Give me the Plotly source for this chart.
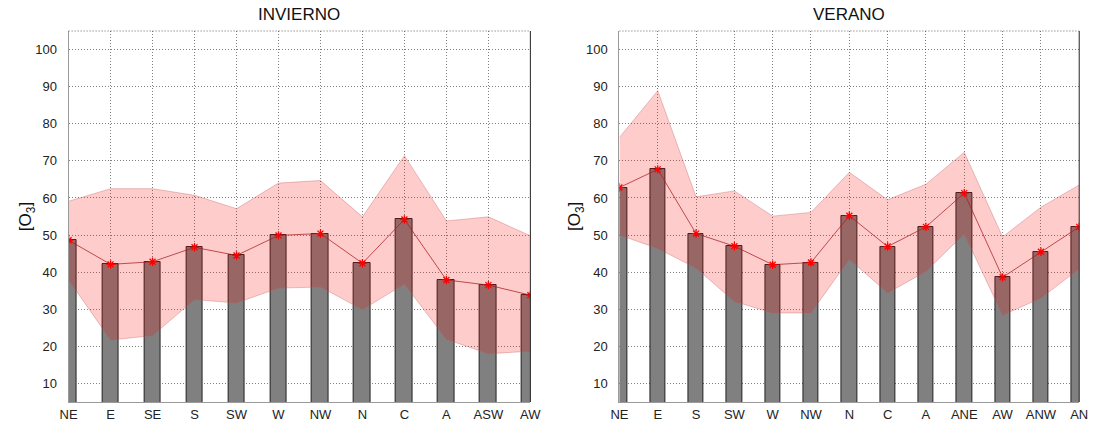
import plotly.graph_objects as go

# Winter (INVIERNO) ozone by synoptic pattern
cats_inv = ["NE", "E", "SE", "S", "SW", "W", "NW", "N", "C", "A", "ASW", "AW"]
mean_inv = [48.6, 42.1, 42.8, 46.7, 44.5, 49.9, 50.4, 42.4, 54.2, 37.9, 36.5, 33.8]
upper_inv = [59.1, 62.5, 62.5, 60.7, 57.1, 64.0, 64.7, 54.9, 71.4, 53.8, 54.9, 49.8]
lower_inv = [37.9, 21.7, 22.9, 32.6, 31.7, 35.7, 36.0, 29.9, 36.8, 21.9, 18.0, 18.7]

# Summer (VERANO) ozone by synoptic pattern
cats_ver = ["NE", "E", "S", "SW", "W", "NW", "N", "C", "A", "ANE", "AW", "ANW", "AN"]
mean_ver = [62.8, 67.7, 50.4, 47.0, 42.0, 42.6, 55.2, 46.9, 52.2, 61.3, 38.6, 45.5, 52.2]
upper_ver = [76.3, 88.9, 60.3, 61.9, 55.1, 56.1, 66.9, 59.5, 63.7, 72.3, 49.5, 57.5, 63.5]
lower_ver = [50.0, 46.4, 41.1, 32.1, 29.0, 29.0, 43.5, 34.4, 40.2, 50.3, 28.4, 33.0, 40.9]

y_ticks = [10, 20, 30, 40, 50, 60, 70, 80, 90, 100]

W, H = 1102, 427
FONT = "Liberation Sans, Arial, Helvetica, sans-serif"
BAND = "rgba(255,0,0,0.2)"
BAND_EDGE = "rgba(190,90,90,0.35)"
GRID = "rgba(0,0,0,0.5)"

fig = go.Figure()

panels = [
    ("x", "y", cats_inv, mean_inv, upper_inv, lower_inv),
    ("x2", "y2", cats_ver, mean_ver, upper_ver, lower_ver),
]

for xa, ya, cats, mean, up, lo in panels:
    fig.add_trace(go.Bar(
        x=cats, y=mean, width=0.4, xaxis=xa, yaxis=ya,
        marker=dict(color="#808080", line=dict(color="rgba(0,0,0,0.8)", width=1)),
        showlegend=False, hoverinfo="skip",
    ))

for xa, ya, cats, mean, up, lo in panels:
    fig.add_trace(go.Scatter(
        x=cats, y=lo, mode="lines", xaxis=xa, yaxis=ya,
        line=dict(color=BAND_EDGE, width=1), showlegend=False, hoverinfo="skip",
    ))
    fig.add_trace(go.Scatter(
        x=cats, y=up, mode="lines", xaxis=xa, yaxis=ya, fill="tonexty",
        fillcolor=BAND, line=dict(color=BAND_EDGE, width=1),
        showlegend=False, hoverinfo="skip",
    ))
    fig.add_trace(go.Scatter(
        x=cats, y=mean, mode="lines+markers", xaxis=xa, yaxis=ya,
        line=dict(color="rgba(170,30,30,0.75)", width=1),
        marker=dict(symbol="asterisk-open", size=7, color="red",
                    line=dict(color="red", width=1.3)),
        showlegend=False, hoverinfo="skip",
    ))

dom1 = [60.7 / W, 531.0 / W]
dom2 = [621.7 / W, 1090.0 / W]

xcommon = dict(
    type="category", showgrid=True, gridcolor=GRID, griddash="1px,2px", gridwidth=1,
    showline=True, linecolor="#9a9a9a", linewidth=1, mirror=False,
    ticks="", tickfont=dict(family=FONT, size=13, color="#222"), zeroline=False,
    fixedrange=True,
)
ycommon = dict(
    range=[5, 105], tickvals=y_ticks, showgrid=True, gridcolor=GRID,
    griddash="1px,2px", gridwidth=1, showline=True, linecolor="#9a9a9a", linewidth=1,
    ticks="", ticklabelstandoff=8, tickfont=dict(family=FONT, size=13, color="#222"),
    zeroline=False, fixedrange=True,
)

fig.update_layout(
    width=W, height=H,
    margin=dict(l=0, r=0, t=31, b=25),
    paper_bgcolor="white", plot_bgcolor="white",
    barmode="overlay", bargap=0,
    xaxis=dict(domain=dom1, range=[0, len(cats_inv) - 1], anchor="y",
               categoryorder="array", categoryarray=cats_inv, **xcommon),
    yaxis=dict(domain=[0, 1], anchor="x", **ycommon),
    xaxis2=dict(domain=dom2, range=[0, len(cats_ver) - 1], anchor="y2",
                categoryorder="array", categoryarray=cats_ver, **xcommon),
    yaxis2=dict(domain=[0, 1], anchor="x2", **ycommon),
)

# box edges: dotted top, solid dark right side
for xd, yd in (("x domain", "y domain"), ("x2 domain", "y2 domain")):
    fig.add_shape(type="line", xref=xd, yref=yd, x0=0, x1=1, y0=1, y1=1,
                  line=dict(color="rgba(0,0,0,0.6)", width=1, dash="1px,2px"))
    fig.add_shape(type="line", xref=xd, yref=yd, x0=1, x1=1, y0=0, y1=1,
                  line=dict(color="#222", width=1))

plot_h = H - 31 - 25
title_y = 1 + (31 - 15) / plot_h
for text, dom in (("INVIERNO", dom1), ("VERANO", dom2)):
    fig.add_annotation(text=text, xref="paper", yref="paper",
                       x=(dom[0] + dom[1]) / 2, y=title_y, xanchor="center",
                       yanchor="middle", showarrow=False,
                       font=dict(family=FONT, size=17, color="#111"))

for xpix in (18, 577):
    fig.add_annotation(text="[O<sub>3</sub>]", xref="paper", yref="paper",
                       x=xpix / W, y=0.5, xanchor="center", yanchor="middle",
                       textangle=-90, showarrow=False,
                       font=dict(family=FONT, size=17, color="#111"))

fig.write_html("out.html")
